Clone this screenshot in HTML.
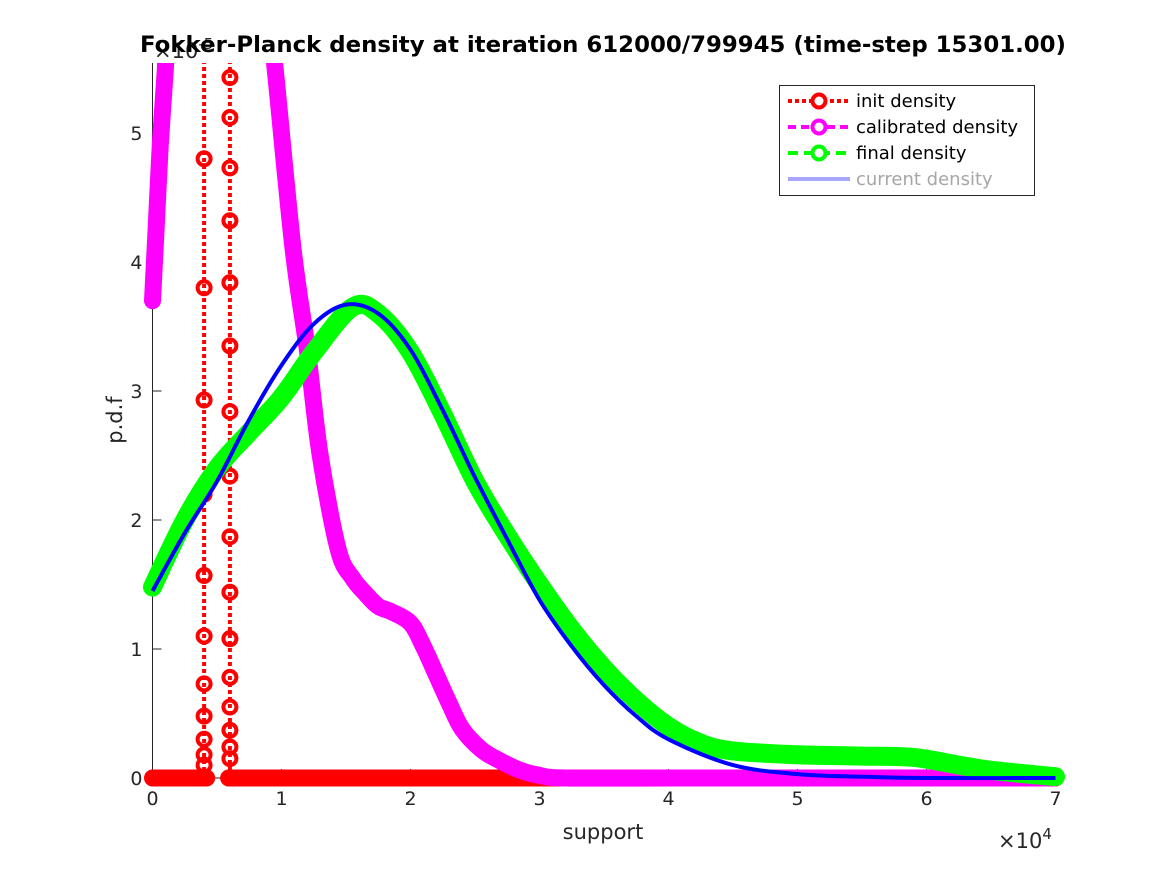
<!DOCTYPE html>
<html><head><meta charset="utf-8"><style>
html,body{margin:0;padding:0;background:#fff;}
svg{display:block;font-family:"DejaVu Sans","Liberation Sans",sans-serif;}
</style></head><body>
<svg id="chart" width="1167" height="875" viewBox="0 0 1167 875" xmlns="http://www.w3.org/2000/svg">
<defs><clipPath id="clip"><rect x="140" y="63" width="930" height="730"/></clipPath></defs>
<rect width="1167" height="875" fill="#fff"/>
<g id="axes"></g>
<g id="series" clip-path="url(#clip)"></g>
<g id="legend"></g>
<text x="603" y="52" text-anchor="middle" font-size="22" font-weight="bold" fill="#000" textLength="926" lengthAdjust="spacingAndGlyphs">Fokker-Planck density at iteration 612000/799945 (time-step 15301.00)</text>
</svg>
<script>
const xTicks = [0,1,2,3,4,5,6,7];
const yTicks = [0,1,2,3,4,5];
// x in units of 1e4, y in units of 1e-5
const initBaseX = [0, 0.42, 0.59, 7];
const initSpike1Y = [0.1,0.18,0.3,0.48,0.73,1.1,1.57,2.2,2.93,3.8,4.8,6.0,8.0];
const initSpike2Y = [0.15,0.24,0.37,0.55,0.78,1.08,1.44,1.87,2.34,2.84,3.35,3.84,4.32,4.73,5.12,5.43,6.5];
const spike1X = 0.4, spike2X = 0.6;
const calibX = [0, 0.03, 0.06, 0.1, 0.14, 0.88, 0.95, 1.09, 1.2, 1.3, 1.44, 1.55, 1.65, 1.75, 1.85, 2.0, 2.1, 2.2, 2.3, 2.4, 2.55, 2.7, 2.85, 3.0, 3.2, 4, 5, 6, 7];
const calibY = [3.7, 4.3, 4.9, 5.5, 6.2, 6.1, 5.5, 4.1, 3.32, 2.5, 1.77, 1.55, 1.43, 1.33, 1.29, 1.2, 1.02, 0.8, 0.58, 0.38, 0.22, 0.13, 0.06, 0.02, 0.0, 0, 0, 0, 0];
const finalX = [0, 0.25, 0.5, 0.75, 1.0, 1.25, 1.55, 1.75, 2.0, 2.25, 2.5, 2.75, 3.0, 3.25, 3.5, 3.75, 4.0, 4.25, 4.5, 5.0, 5.5, 5.9, 6.25, 6.5, 7];
const finalY = [1.48, 2.0, 2.4, 2.68, 2.95, 3.3, 3.65, 3.6, 3.3, 2.82, 2.3, 1.88, 1.5, 1.15, 0.85, 0.6, 0.4, 0.27, 0.21, 0.18, 0.17, 0.16, 0.1, 0.06, 0.01];
const currX = [0, 0.25, 0.5, 0.75, 1.0, 1.25, 1.5, 1.75, 2.0, 2.25, 2.5, 2.75, 3.0, 3.25, 3.5, 3.75, 4.0, 4.5, 5.0, 5.5, 6.0, 7];
const currY = [1.45, 1.9, 2.3, 2.78, 3.2, 3.52, 3.67, 3.6, 3.32, 2.85, 2.33, 1.85, 1.38, 1.02, 0.72, 0.48, 0.3, 0.1, 0.03, 0.01, 0.0, 0.0];

const X0 = 152.5, XS = 129, Y0 = 778, YS = 129;
const sx = v => X0 + v * XS;
const sy = v => Y0 - v * YS;
const NS = "http://www.w3.org/2000/svg";
function mk(tag, attrs, parent) {
  const e = document.createElementNS(NS, tag);
  for (const k in attrs) e.setAttribute(k, attrs[k]);
  parent.appendChild(e);
  return e;
}
const axes = document.getElementById('axes');
const ser = document.getElementById('series');
const leg = document.getElementById('legend');

let l = mk('line', {x1: X0, y1: 63, x2: X0, y2: Y0, stroke: '#262626', 'stroke-width': 1}, axes);


l = mk('line', {x1: X0, y1: Y0, x2: sx(7), y2: Y0, stroke: '#262626', 'stroke-width': 1}, axes);


xTicks.forEach(t => {
  const tk = mk('line', {x1: sx(t), y1: Y0, x2: sx(t), y2: Y0 - 9, stroke: '#262626'}, axes);
  
  
  const tx = mk('text', {x: sx(t), y: Y0 + 27, 'text-anchor': 'middle', 'font-size': 19, fill: '#262626'}, axes);
  tx.textContent = t;
  
  
});
yTicks.forEach(t => {
  const tk = mk('line', {x1: X0, y1: sy(t), x2: X0 + 9, y2: sy(t), stroke: '#262626'}, axes);
  
  
  const tx = mk('text', {x: X0 - 10, y: sy(t) + 7, 'text-anchor': 'end', 'font-size': 19, fill: '#262626'}, axes);
  tx.textContent = t;
  
  
});
let t = mk('text', {x: 603, y: 839, 'text-anchor': 'middle', 'font-size': 21, fill: '#262626'}, axes);
t.textContent = 'support';


t = mk('text', {x: 122, y: 420, 'text-anchor': 'middle', 'font-size': 21, fill: '#262626', transform: 'rotate(-90 122 420)'}, axes);
t.textContent = 'p.d.f';


t = mk('text', {x: 998, y: 848, 'font-size': 21, fill: '#262626'}, axes);
t.innerHTML = '×10<tspan dy="-9" font-size="15">4</tspan>';


t = mk('text', {x: 154, y: 58, 'font-size': 21, fill: '#262626'}, axes);
t.innerHTML = '×10<tspan dy="-9" font-size="15">-5</tspan>';



function pathOf(xs, ys) {
  const P = xs.map((x, i) => [sx(x), sy(ys[i])]);
  let d = 'M' + P[0][0].toFixed(1) + ' ' + P[0][1].toFixed(1);
  for (let i = 0; i < P.length - 1; i++) {
    const p0 = P[i - 1] || P[i], p1 = P[i], p2 = P[i + 1], p3 = P[i + 2] || P[i + 1];
    const c1 = [p1[0] + (p2[0] - p0[0]) / 6, p1[1] + (p2[1] - p0[1]) / 6];
    const c2 = [p2[0] - (p3[0] - p1[0]) / 6, p2[1] - (p3[1] - p1[1]) / 6];
    d += ' C' + c1.map(v => v.toFixed(1)).join(' ') + ' ' + c2.map(v => v.toFixed(1)).join(' ') + ' ' + p2.map(v => v.toFixed(1)).join(' ');
  }
  return d;
}

let p = mk('path', {d: 'M' + sx(initBaseX[0]) + ' ' + sy(0) + ' L' + sx(initBaseX[1]) + ' ' + sy(0) + ' M' + sx(initBaseX[2]) + ' ' + sy(0) + ' L' + sx(initBaseX[3]) + ' ' + sy(0), stroke: '#ff0000', 'stroke-width': 17, 'stroke-linecap': 'round', fill: 'none'}, ser);


[[spike1X, initSpike1Y, 'init-spike-1'], [spike2X, initSpike2Y, 'init-spike-2']].forEach(([x, ys, nm]) => {
  const ln = mk('line', {x1: sx(x), y1: sy(0), x2: sx(x), y2: sy(ys[ys.length - 1]), stroke: '#ff0000', 'stroke-width': 4, 'stroke-dasharray': '4 3'}, ser);
  
  
  ys.forEach(v => {
    const c = mk('circle', {cx: sx(x), cy: sy(v), r: 6.5, fill: 'none', stroke: '#ff0000', 'stroke-width': 4}, ser);
    
    
  });
});
p = mk('path', {d: pathOf(calibX, calibY), stroke: '#ff00ff', 'stroke-width': 17, 'stroke-linecap': 'round', 'stroke-linejoin': 'round', fill: 'none'}, ser);


p = mk('path', {d: pathOf(finalX, finalY), stroke: '#00ff00', 'stroke-width': 19, 'stroke-linecap': 'round', 'stroke-linejoin': 'round', fill: 'none'}, ser);


p = mk('path', {d: pathOf(currX, currY), stroke: '#0000ff', 'stroke-width': 4, 'stroke-linejoin': 'round', fill: 'none'}, ser);



const lb = mk('rect', {x: 779.5, y: 85.5, width: 255, height: 110, fill: '#fff', stroke: '#262626', 'stroke-width': 1}, leg);


const items = [
  ['init density', '#ff0000', '4 3', true, '#000', 'legend-entry-init'],
  ['calibrated density', '#ff00ff', '8 5', true, '#000', 'legend-entry-calibrated'],
  ['final density', '#00ff00', '10 6', true, '#000', 'legend-entry-final'],
  ['current density', '#a6a6ff', '', false, '#a6a6a6', 'legend-entry-current']
];
items.forEach((it, i) => {
  const y = 101 + i * 26;
  const g = mk('g', {}, leg);
  
  
  const a = {x1: 788, y1: y, x2: 850, y2: y, stroke: it[1], 'stroke-width': 4};
  if (it[2]) a['stroke-dasharray'] = it[2];
  mk('line', a, g);
  if (it[3]) mk('circle', {cx: 819, cy: y, r: 6.5, fill: '#fff', stroke: it[1], 'stroke-width': 4}, g);
  const tx = mk('text', {x: 856, y: y + 6, 'font-size': 18, fill: it[4]}, g);
  tx.textContent = it[0];
});
</script>
</body></html>
